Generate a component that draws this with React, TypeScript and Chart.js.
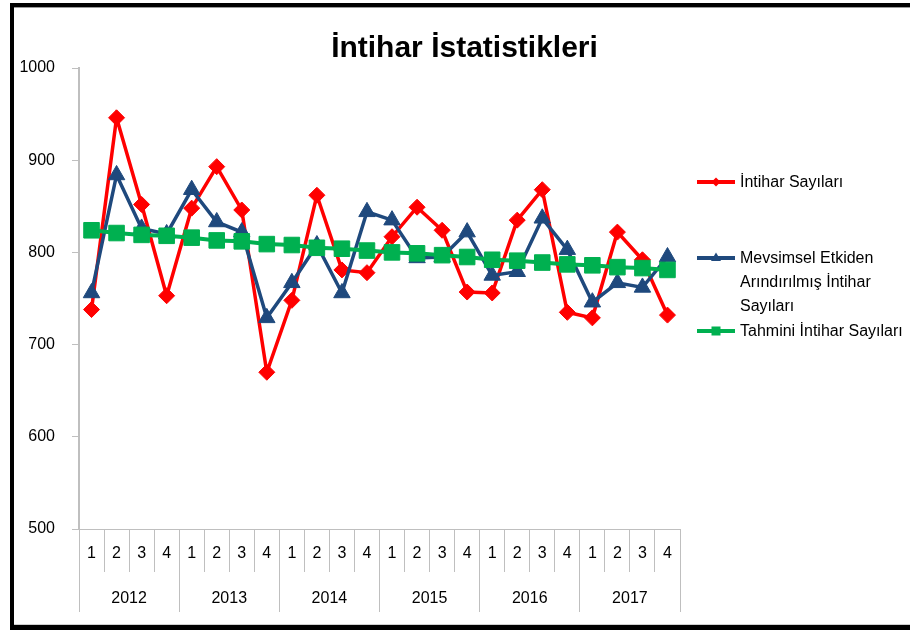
import React, { useEffect, useRef } from "react";
import { Chart, registerables } from "chart.js";

Chart.register(...registerables);

const quarters = ["1","2","3","4","1","2","3","4","1","2","3","4","1","2","3","4","1","2","3","4","1","2","3","4"];
const years = ["2012", "2013", "2014", "2015", "2016", "2017"];

const intiharSayilari = [738, 946, 852, 753, 848, 893, 846, 670, 748, 862, 781, 778, 817, 849, 824, 757, 756, 835, 868, 735, 729, 822, 792, 732];
const mevsimsel = [756, 884, 826, 820, 868, 833, 822, 729, 767, 808, 756, 844, 835, 794, 795, 822, 775, 779, 837, 803, 746, 767, 762, 795];
const tahmini = [824, 821, 819, 818, 816, 813, 812, 809, 808, 805, 804, 802, 800, 799, 797, 795, 792, 791, 789, 787, 786, 784, 783, 781];

const seriesNames = ["İntihar Sayıları", "Mevsimsel Etkiden Arındırılmış İntihar Sayıları", "Tahmini İntihar Sayıları"];
const titleText = "İntihar İstatistikleri";

const RED = "#FF0000";
const BLUE = "#1F497D";
const GREEN = "#00B050";
const GRID = "#BFBFBF";
const FONT = "'Liberation Sans', Arial, sans-serif";

function LegendMarker({ color, shape }: { color: string; shape: string }) {
  return (
    <svg width={40} height={14} style={{ display: "block" }}>
      <line x1={1} y1={7} x2={39} y2={7} stroke={color} strokeWidth={4} />
      {shape === "diamond" && <polygon points="20,2.5 24.5,7 20,11.5 15.5,7" fill={color} />}
      {shape === "triangle" && <polygon points="20,1.5 25,10 15,10" fill={color} />}
      {shape === "square" && <rect x={15.5} y={2.5} width={9} height={9} fill={color} />}
    </svg>
  );
}

export default function App() {
  const canvasRef = useRef<HTMLCanvasElement | null>(null);

  useEffect(() => {
    const canvas = canvasRef.current;
    if (!canvas) return;
    const chart = new Chart(canvas, {
      type: "line",
      data: {
        labels: quarters,
        datasets: [
          {
            label: seriesNames[0],
            data: intiharSayilari,
            borderColor: RED,
            backgroundColor: RED,
            borderWidth: 3.5,
            pointStyle: "rectRot",
            pointRadius: 8,
            pointBorderWidth: 1,
            pointBackgroundColor: RED,
            pointBorderColor: RED,
            tension: 0,
            order: 3,
          },
          {
            label: seriesNames[1],
            data: mevsimsel,
            borderColor: BLUE,
            backgroundColor: BLUE,
            borderWidth: 3.5,
            pointStyle: "triangle",
            pointRadius: 9.5,
            pointBorderWidth: 1,
            pointBackgroundColor: BLUE,
            pointBorderColor: BLUE,
            tension: 0,
            order: 2,
          },
          {
            label: seriesNames[2],
            data: tahmini,
            borderColor: GREEN,
            backgroundColor: GREEN,
            borderWidth: 4,
            pointStyle: "rect",
            pointRadius: 11,
            pointBorderWidth: 1,
            pointBackgroundColor: GREEN,
            pointBorderColor: GREEN,
            tension: 0,
            order: 1,
          },
        ],
      },
      options: {
        responsive: false,
        animation: false,
        layout: { padding: { left: 5, right: 0, top: 0, bottom: 12 } },
        plugins: {
          legend: { display: false },
          tooltip: { enabled: false },
          title: {
            display: true,
            text: titleText,
            color: "#000",
            font: { family: FONT, size: 30, weight: "bold", lineHeight: 1.2 },
            padding: { top: 23, bottom: 1 },
          },
        },
        scales: {
          x: {
            type: "category",
            position: "bottom",
            offset: true,
            grid: {
              display: true,
              drawOnChartArea: false,
              offset: true,
              tickLength: 43,
              color: GRID,
              lineWidth: 1,
            },
            border: { display: true, color: GRID, width: 1 },
            ticks: {
              color: "#000",
              font: { family: FONT, size: 16 },
              padding: -28,
              autoSkip: false,
              maxRotation: 0,
              minRotation: 0,
            },
            afterFit: (scale: any) => {
              scale.height = 43;
            },
          },
          x2: {
            type: "category",
            position: "bottom",
            labels: years,
            offset: true,
            grid: {
              display: true,
              drawOnChartArea: false,
              offset: true,
              tickLength: 40,
              color: GRID,
              lineWidth: 1,
            },
            border: { display: false },
            ticks: {
              color: "#000",
              font: { family: FONT, size: 16 },
              padding: -23,
              autoSkip: false,
              maxRotation: 0,
              minRotation: 0,
            },
            afterFit: (scale: any) => {
              scale.height = 40;
            },
          },
          y: {
            min: 500,
            max: 1000,
            ticks: {
              stepSize: 100,
              color: "#000",
              font: { family: FONT, size: 16 },
              padding: 17,
              callback: (v: any) => String(v),
            },
            grid: {
              display: true,
              drawOnChartArea: false,
              tickLength: 7,
              color: GRID,
              lineWidth: 1,
            },
            border: { display: true, color: GRID, width: 2 },
            afterFit: (scale: any) => {
              scale.width = 60;
            },
          },
          yRightSpace: {
            type: "linear",
            position: "right",
            display: true,
            min: 500,
            max: 1000,
            grid: { display: false, drawTicks: false },
            border: { display: false },
            ticks: { display: false },
            afterFit: (scale: any) => {
              scale.width = 230;
            },
          },
        },
      },
    } as any);
    return () => chart.destroy();
  }, []);

  const textStyle: React.CSSProperties = {
    position: "absolute",
    fontFamily: FONT,
    fontSize: 16,
    color: "#000",
    lineHeight: "24px",
    whiteSpace: "nowrap",
  };

  return (
    <div style={{ position: "absolute", left: 0, top: 0, width: 910, height: 630, background: "#fff", overflow: "hidden" }}>
      <div
        style={{
          position: "absolute",
          left: 10,
          top: 3,
          width: 920,
          height: 627,
          boxSizing: "border-box",
          borderTop: "4px solid #000",
          borderLeft: "4px solid #000",
          borderBottom: "5px solid #000",
        }}
      >
        <div style={{ position: "absolute", left: 0, top: 0, right: 0, bottom: 0, borderTop: "1px solid #9a9a9a", borderBottom: "1px solid #cfcfcf" }} />
      </div>
      <canvas ref={canvasRef} width={896} height={616} style={{ position: "absolute", left: 14, top: 8, width: 896, height: 616 }} />
      {/* Legend */}
      <div style={{ position: "absolute", left: 696, top: 175 }}>
        <LegendMarker color={RED} shape="diamond" />
      </div>
      <div style={{ ...textStyle, left: 740, top: 170 }}>{seriesNames[0]}</div>

      <div style={{ position: "absolute", left: 696, top: 251 }}>
        <LegendMarker color={BLUE} shape="triangle" />
      </div>
      <div style={{ ...textStyle, left: 740, top: 246 }}>
        Mevsimsel Etkiden
        <br />
        Arındırılmış İntihar
        <br />
        Sayıları
      </div>

      <div style={{ position: "absolute", left: 696, top: 324 }}>
        <LegendMarker color={GREEN} shape="square" />
      </div>
      <div style={{ ...textStyle, left: 740, top: 319 }}>{seriesNames[2]}</div>
    </div>
  );
}
